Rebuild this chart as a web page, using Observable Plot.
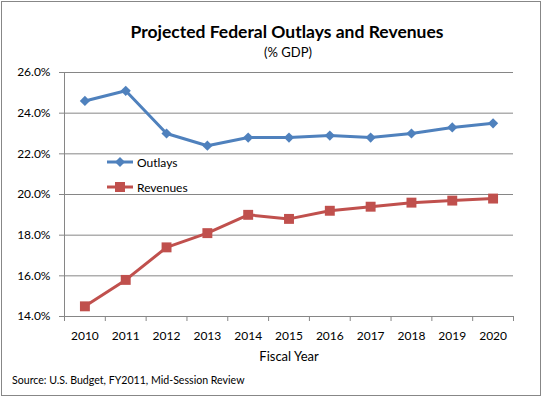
<!DOCTYPE html>
<html><head><meta charset="utf-8">
<script src="https://cdn.jsdelivr.net/npm/d3@7"></script>
<script src="https://cdn.jsdelivr.net/npm/@observablehq/plot@0.6"></script>
<style>
body{margin:0;background:#fff;}
#wrap{position:relative;width:543px;height:398px;font-family:Lato,"Open Sans",sans-serif;color:#000;overflow:hidden;}
#frame{position:absolute;left:1px;top:1px;width:540px;height:395px;border:1px solid #878787;box-sizing:border-box;pointer-events:none;}
.t{position:absolute;white-space:nowrap;}
#title{left:287px;top:21px;transform:translateX(-50%);font-size:17.5px;font-weight:bold;}
#subtitle{left:288px;top:44px;transform:translateX(-50%);font-size:13px;}
#xlabel{left:289px;top:348px;transform:translateX(-50%);font-size:13px;}
#source{left:12px;top:374px;font-size:10.6px;}
#chart{position:absolute;left:0;top:0;}
#legend{position:absolute;left:0;top:0;}
.li{position:absolute;display:flex;align-items:center;font-size:12px;}
.li svg{display:block;margin-right:3px;}
</style></head>
<body>
<div id="wrap">
  <div id="chart"></div>
  <div id="legend"></div>
  <div class="t" id="title"></div>
  <div class="t" id="subtitle"></div>
  <div class="t" id="xlabel"></div>
  <div class="t" id="source"></div>
  <div id="frame"></div>
</div>
<script>
const years = [2010, 2011, 2012, 2013, 2014, 2015, 2016, 2017, 2018, 2019, 2020];
const outlays = [24.6, 25.1, 23.0, 22.4, 22.8, 22.8, 22.9, 22.8, 23.0, 23.3, 23.5];
const revenues = [14.5, 15.8, 17.4, 18.1, 19.0, 18.8, 19.2, 19.4, 19.6, 19.7, 19.8];
const seriesNames = ["Outlays", "Revenues"];
const seriesColors = ["#4F81BD", "#C0504D"];
const yTicks = [14, 16, 18, 20, 22, 24, 26];
const titleText = "Projected Federal Outlays and Revenues";
const subtitleText = "(% GDP)";
const xLabelText = "Fiscal Year";
const sourceText = "Source: U.S. Budget, FY2011, Mid-Session Review";

document.getElementById("title").textContent = titleText;
document.getElementById("subtitle").textContent = subtitleText;
document.getElementById("xlabel").textContent = xLabelText;
document.getElementById("source").textContent = sourceText;

const rows = [
  ...years.map((y, i) => ({year: y, value: outlays[i], series: seriesNames[0]})),
  ...years.map((y, i) => ({year: y, value: revenues[i], series: seriesNames[1]}))
];
const boundaries = [...years.map(y => y - 0.5), years[years.length - 1] + 0.5];
const gray = "#868686";

const chart = Plot.plot({
  width: 543, height: 398,
  marginLeft: 64, marginRight: 30, marginTop: 72, marginBottom: 82,
  style: {fontFamily: "Lato, 'Open Sans', sans-serif", fontSize: "12px", background: "transparent", color: "#000"},
  x: {type: "linear", domain: [boundaries[0], boundaries[boundaries.length - 1]]},
  y: {domain: [yTicks[0], yTicks[yTicks.length - 1]]},
  color: {domain: seriesNames, range: seriesColors},
  marks: [
    Plot.gridY(yTicks, {stroke: gray, strokeOpacity: 1, strokeWidth: 1}),
    Plot.ruleX([boundaries[0]], {stroke: gray}),
    Plot.ruleY([yTicks[0]], {stroke: gray}),
    Plot.axisY(yTicks, {tickSize: 5, tickPadding: 9, tickFormat: d => d.toFixed(1) + "%", stroke: gray, fill: "#000", label: null}),
    Plot.axisX(boundaries, {tickSize: 5, tickFormat: () => "", stroke: gray, label: null}),
    Plot.axisX(years, {tickSize: 0, tickPadding: 15, tickFormat: d => String(d), fill: "#000", label: null}),
    Plot.line(rows, {x: "year", y: "value", stroke: "series", strokeWidth: 3}),
    Plot.dot(rows.filter(d => d.series === seriesNames[0]), {x: "year", y: "value", fill: "series", symbol: () => "diamond2", r: 4.6, stroke: null}),
    Plot.dot(rows.filter(d => d.series === seriesNames[1]), {x: "year", y: "value", fill: "series", symbol: () => "square", r: 5.6, stroke: null})
  ]
});
document.getElementById("chart").appendChild(chart);

// legend
const legend = document.getElementById("legend");
const legendPos = [{left: 106, top: 154}, {left: 106, top: 179}];
seriesNames.forEach((name, i) => {
  const item = document.createElement("div");
  item.className = "li";
  item.style.left = legendPos[i].left + "px";
  item.style.top = legendPos[i].top + "px";
  const shape = i === 0
    ? `<path d="M14 3 L19 8 L14 13 L9 8 Z" fill="${seriesColors[i]}"/>`
    : `<rect x="9" y="3" width="10" height="10" fill="${seriesColors[i]}"/>`;
  item.innerHTML = `<svg width="28" height="16"><line x1="1" y1="8" x2="27" y2="8" stroke="${seriesColors[i]}" stroke-width="3"/>${shape}</svg><span></span>`;
  item.querySelector("span").textContent = name;
  legend.appendChild(item);
});
</script>
</body></html>
